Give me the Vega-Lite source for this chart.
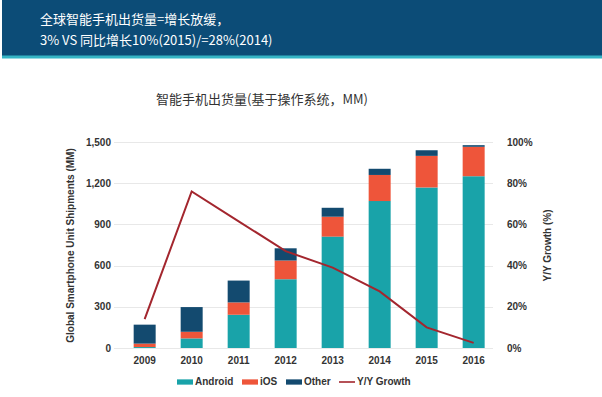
{
  "$schema": "https://vega.github.io/schema/vega-lite/v6.json",
  "padding": 0,
  "background": "white",
  "config": {"view": {"stroke": null}, "font": "Liberation Sans"},
  "center": true,
  "bounds": "flush",
  "spacing": 85,
  "datasets": {
    "banner": [
      {"line": 1, "text": "全球智能手机出货量=增长放缓，"},
      {"line": 2, "text": "3% VS 同比增长10%(2015)/=28%(2014)"}
    ],
    "units": [
      {"year": "2009", "os": "Android", "rank": 1, "units": 7},
      {"year": "2009", "os": "iOS", "rank": 2, "units": 25},
      {"year": "2009", "os": "Other", "rank": 3, "units": 138},
      {"year": "2010", "os": "Android", "rank": 1, "units": 70},
      {"year": "2010", "os": "iOS", "rank": 2, "units": 48},
      {"year": "2010", "os": "Other", "rank": 3, "units": 180},
      {"year": "2011", "os": "Android", "rank": 1, "units": 242},
      {"year": "2011", "os": "iOS", "rank": 2, "units": 90},
      {"year": "2011", "os": "Other", "rank": 3, "units": 159},
      {"year": "2012", "os": "Android", "rank": 1, "units": 501},
      {"year": "2012", "os": "iOS", "rank": 2, "units": 136},
      {"year": "2012", "os": "Other", "rank": 3, "units": 89},
      {"year": "2013", "os": "Android", "rank": 1, "units": 811},
      {"year": "2013", "os": "iOS", "rank": 2, "units": 145},
      {"year": "2013", "os": "Other", "rank": 3, "units": 65},
      {"year": "2014", "os": "Android", "rank": 1, "units": 1070},
      {"year": "2014", "os": "iOS", "rank": 2, "units": 190},
      {"year": "2014", "os": "Other", "rank": 3, "units": 45},
      {"year": "2015", "os": "Android", "rank": 1, "units": 1169},
      {"year": "2015", "os": "iOS", "rank": 2, "units": 230},
      {"year": "2015", "os": "Other", "rank": 3, "units": 41},
      {"year": "2016", "os": "Android", "rank": 1, "units": 1251},
      {"year": "2016", "os": "iOS", "rank": 2, "units": 214},
      {"year": "2016", "os": "Other", "rank": 3, "units": 12}
    ],
    "growth": [
      {"year": "2009", "growth": 0.14},
      {"year": "2010", "growth": 0.76},
      {"year": "2011", "growth": 0.615},
      {"year": "2012", "growth": 0.47},
      {"year": "2013", "growth": 0.39},
      {"year": "2014", "growth": 0.275},
      {"year": "2015", "growth": 0.10},
      {"year": "2016", "growth": 0.025}
    ]
  },
  "vconcat": [
    {
      "width": 602,
      "height": 57,
      "view": {"fill": "#0c4c77", "stroke": null},
      "layer": [
        {
          "data": {"name": "banner"},
          "mark": {"type": "text", "align": "left", "baseline": "middle", "font": "Noto Sans CJK SC", "fontSize": 13, "color": "white", "dy": 2},
          "encoding": {
            "x": {"value": 38},
            "y": {"field": "line", "type": "ordinal", "axis": null, "scale": {"padding": 0.9}},
            "text": {"field": "text"}
          }
        },
        {
          "data": {"values": [{}]},
          "mark": {"type": "rule", "color": "#35b4c5", "strokeWidth": 3},
          "encoding": {
            "y": {"value": "height"},
            "x": {"value": 0},
            "x2": {"value": "width"}
          }
        }
      ]
    },
    {
      "width": 379,
      "height": 206,
      "title": {"text": "智能手机出货量(基于操作系统，MM)", "font": "Noto Sans CJK SC", "fontSize": 13, "fontWeight": "normal", "color": "#333333", "offset": 30, "dx": -41},
      "layer": [
        {
          "data": {"name": "units"},
          "mark": {"type": "bar"},
          "encoding": {
            "x": {"field": "year", "type": "ordinal",
              "scale": {"paddingInner": 0.532, "paddingOuter": 0.298, "align": 0.72},
              "axis": {"title": null, "labelAngle": 0, "domain": false, "ticks": false, "labelFontWeight": "bold", "labelFontSize": 10, "labelColor": "#333333", "labelPadding": 7}},
            "y": {"field": "units", "type": "quantitative", "stack": "zero",
              "scale": {"domain": [0, 1500]},
              "axis": {"values": [0, 300, 600, 900, 1200, 1500], "format": ",.0f", "title": "Global Smartphone Unit Shipments (MM)", "titleFontSize": 10, "titleFontWeight": "bold", "titleColor": "#333333", "labelFontSize": 10, "labelFontWeight": "bold", "labelColor": "#333333", "labelPadding": 3, "domain": false, "ticks": false, "gridColor": "#e8e8e8", "titlePadding": 10}},
            "color": {"field": "os", "type": "nominal", "sort": ["Android", "iOS", "Other", "Y/Y Growth"],
              "scale": {"domain": ["Android", "iOS", "Other", "Y/Y Growth"], "range": ["#19a3a9", "#ee553a", "#134a6f", "#a3262e"]},
              "legend": {"title": null, "orient": "none", "legendX": 175, "legendY": 374, "direction": "horizontal", "labelFontSize": 10, "labelFontWeight": "bold", "labelColor": "#333333", "symbolSize": 256, "columnPadding": 8, "labelOffset": 2,
                "encode": {"symbols": {"update": {
                  "shape": {"signal": "datum.value === 'Y/Y Growth' ? 'M-1,-0.1H1V0.1H-1Z' : 'M-1,-0.33H1V0.33H-1Z'"},
                  "fill": {"scale": "color", "field": "value"},
                  "stroke": {"value": "transparent"},
                  "strokeWidth": {"value": 0},
                  "opacity": {"value": 1}
                }}}}},
            "order": {"field": "rank"}
          }
        },
        {
          "data": {"name": "growth"},
          "mark": {"type": "line", "strokeWidth": 2},
          "encoding": {
            "x": {"field": "year", "type": "ordinal"},
            "y": {"field": "growth", "type": "quantitative",
              "scale": {"domain": [0, 1]},
              "axis": {"orient": "right", "values": [0, 0.2, 0.4, 0.6, 0.8, 1], "format": ".0%", "title": "Y/Y Growth (%)", "titleAngle": -90, "titleFontSize": 10, "titleFontWeight": "bold", "titleColor": "#333333", "labelFontSize": 10, "labelFontWeight": "bold", "labelColor": "#333333", "labelPadding": 14, "domain": false, "ticks": false, "grid": false, "titlePadding": 20}},
            "color": {"datum": "Y/Y Growth"}
          }
        }
      ],
      "resolve": {"scale": {"y": "independent"}}
    }
  ]
}
